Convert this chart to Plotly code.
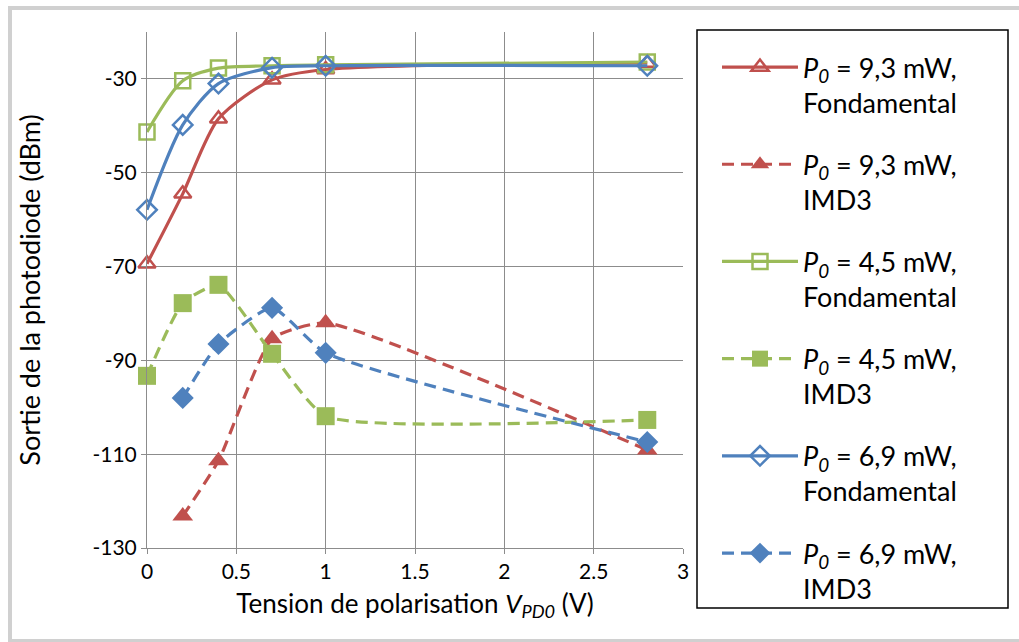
import plotly.graph_objects as go

# tension de polarisation (V)
v_fund = [0, 0.2, 0.4, 0.7, 1, 2.8]
v_imd_93 = [0.2, 0.4, 0.7, 1, 2.8]
v_imd_45 = [0, 0.2, 0.4, 0.7, 1, 2.8]
v_imd_69 = [0.2, 0.4, 0.7, 1, 2.8]

# sortie de la photodiode (dBm)
fond_93 = [-69.4, -54.5, -38.5, -30.2, -28.0, -26.6]
imd3_93 = [-123.2, -111.4, -85.4, -82.0, -109.1]
fond_45 = [-41.3, -30.4, -27.7, -27.2, -27.0, -26.4]
imd3_45 = [-93.3, -77.8, -73.9, -88.6, -101.9, -102.7]
fond_69 = [-57.9, -39.8, -31.0, -27.6, -27.2, -27.2]
imd3_69 = [-98.0, -86.5, -78.8, -88.4, -107.4]

y_ticks = [-130, -110, -90, -70, -50, -30]
y_ticktext = ["-130", "-110", "-90", "-70", "-50", "-30"]

names = [
    "<i>P<sub>0</sub></i> = 9,3 mW,<br>Fondamental",
    "<i>P<sub>0</sub></i> = 9,3 mW,<br>IMD3",
    "<i>P<sub>0</sub></i> = 4,5 mW,<br>Fondamental",
    "<i>P<sub>0</sub></i> = 4,5 mW,<br>IMD3",
    "<i>P<sub>0</sub></i> = 6,9 mW,<br>Fondamental",
    "<i>P<sub>0</sub></i> = 6,9 mW,<br>IMD3",
]

RED = "#C0504D"
GREEN = "#9BBB59"
BLUE = "#4F81BD"
FONT = "Lato"

series = [
    (v_fund, fond_93, RED, "triangle-up-open", "solid", 15),
    (v_imd_93, imd3_93, RED, "triangle-up", "12px,7px", 18),
    (v_fund, fond_45, GREEN, "square-open", "solid", 15),
    (v_imd_45, imd3_45, GREEN, "square", "12px,7px", 18),
    (v_fund, fond_69, BLUE, "diamond-open", "solid", 15),
    (v_imd_69, imd3_69, BLUE, "diamond", "12px,7px", 17),
]

fig = go.Figure()
for i, (x, y, col, sym, dash, sz) in enumerate(series):
    is_open = sym.endswith("open")
    fig.add_trace(go.Scatter(
        x=x, y=y, name=names[i], legendgroup="g%d" % i,
        mode="lines+markers", cliponaxis=False,
        line=dict(color=col, width=3.2, dash=dash, shape="spline",
                  smoothing=0.75 if is_open else 0.5),
        marker=dict(symbol=sym, color=col, size=sz,
                    line=dict(width=2.5 if is_open else 0, color=col)),
    ))

fig.update_layout(
    width=1019, height=642,
    margin=dict(l=147, r=336, t=32, b=94),
    paper_bgcolor="white", plot_bgcolor="white",
    font=dict(family=FONT, size=21, color="black"),
    showlegend=True,
    legend=dict(x=(717 - 147) / 536, y=(548 - 43) / 516, xanchor="left", yanchor="top",
                font=dict(family=FONT, size=27, color="black"),
                bgcolor="rgba(0,0,0,0)", borderwidth=0,
                tracegroupgap=24, valign="top", itemwidth=76,
                maxheight=800),
    xaxis=dict(range=[0, 3], dtick=0.5, tick0=0, showgrid=True,
               gridcolor="#8c8c8c", gridwidth=1, zeroline=False,
               showline=True, linecolor="#8c8c8c", linewidth=1,
               ticks="outside", ticklen=5, tickcolor="#8c8c8c",
               tickfont=dict(size=21),
               title=dict(text="Tension de polarisation <i>V<sub>PD0</sub></i> (V)",
                          font=dict(size=26), standoff=12)),
    yaxis=dict(range=[-130, -20], tickmode="array", tickvals=y_ticks,
               ticktext=y_ticktext, showgrid=True,
               gridcolor="#8c8c8c", gridwidth=1, zeroline=False,
               showline=True, linecolor="#8c8c8c", linewidth=1,
               ticks="outside", ticklen=5, tickcolor="#8c8c8c",
               tickfont=dict(size=21),
               title=dict(text="Sortie de la photodiode (dBm)",
                          font=dict(size=27), standoff=44)),
)

# cadre extérieur et cadre de la légende (en pixels depuis le coin bas gauche du tracé)
fig.add_shape(type="rect", xref="paper", yref="paper",
              xsizemode="pixel", ysizemode="pixel", xanchor=0, yanchor=0,
              x0=-137, x1=883, y0=-93, y1=540,
              line=dict(color="#d0d0d0", width=4), layer="below")
fig.add_shape(type="rect", xref="paper", yref="paper",
              xsizemode="pixel", ysizemode="pixel", xanchor=0, yanchor=0,
              x0=550, x1=861, y0=-60, y1=518,
              line=dict(color="black", width=1.5), layer="below")

fig.write_html("out.html", config={"displayModeBar": False},
               post_script="document.body.style.margin='0';")
